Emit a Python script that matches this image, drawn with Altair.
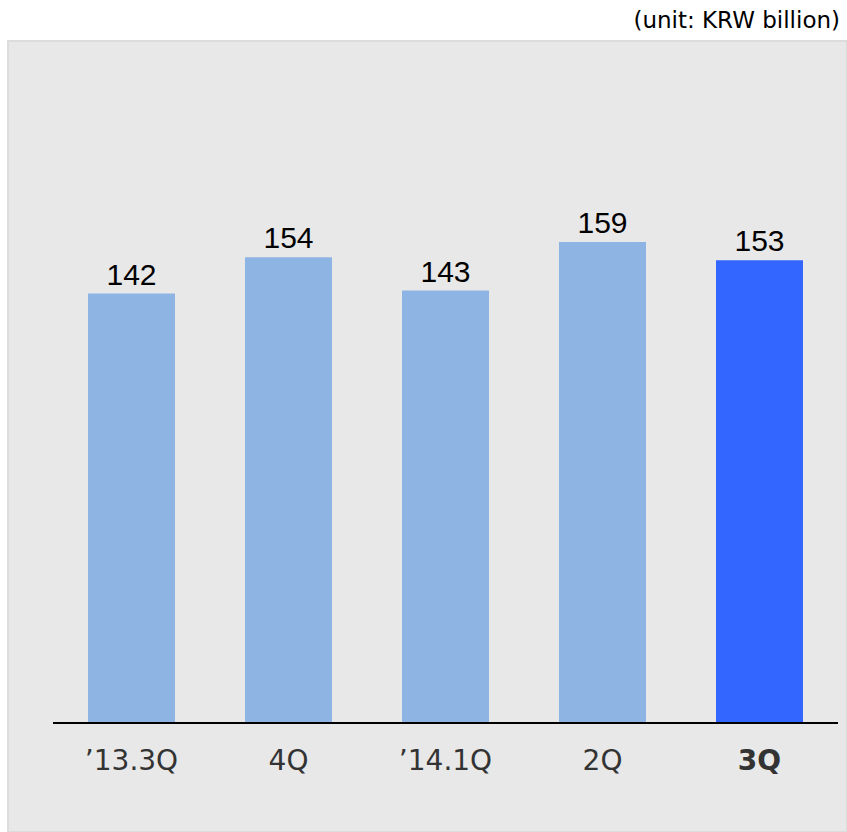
import altair as alt
import pandas as pd

categories = ["\u201913.3Q", "4Q", "\u201914.1Q", "2Q", "3Q"]
values = [142, 154, 143, 159, 153]
highlight = [False, False, False, False, True]

df = pd.DataFrame({"cat": categories, "val": values, "hl": highlight})

xs = alt.X("cat:N", sort=categories, axis=None,
           scale=alt.Scale(range=[45, 830], paddingInner=0.446, paddingOuter=0.223))
ys = alt.Y("val:Q", axis=None, scale=alt.Scale(domain=[0, 225.5], range=[682, 0], nice=False))

bars = alt.Chart(df).mark_bar().encode(
    x=xs, y=ys,
    color=alt.Color("hl:N", scale=alt.Scale(domain=[False, True], range=["#8eb4e3", "#3366ff"]), legend=None),
)

vals = alt.Chart(df).mark_text(baseline="alphabetic", dy=-9, fontSize=30, font="Liberation Sans", color="#000000").encode(
    x=xs, y=ys, text="val:Q"
)

labels_n = alt.Chart(df).transform_filter("!datum.hl").mark_text(
    baseline="alphabetic", fontSize=28, font="DejaVu Sans", color="#333333").encode(
    x=xs, y=alt.value(729), text="cat:N"
)
labels_b = alt.Chart(df).transform_filter("datum.hl").mark_text(
    baseline="alphabetic", fontSize=28, font="DejaVu Sans", fontWeight="bold", color="#333333").encode(
    x=xs, y=alt.value(729), text="cat:N"
)

rule = alt.Chart(df).mark_rule(color="#000000", strokeWidth=2).encode(
    x=alt.value(45), x2=alt.value(830), y=alt.value(682)
)

chart = alt.layer(bars, vals, labels_n, labels_b, rule).properties(
    width=839, height=791,
    background="#ffffff",
    autosize=alt.AutoSizeParams(type="none"),
    padding={"left": 8, "top": 41, "right": 0, "bottom": 0},
    title=alt.TitleParams("(unit: KRW billion)", anchor="end", font="DejaVu Sans", fontSize=23,
                          fontWeight="normal", color="#000000", offset=8, dx=-7),
).configure_view(fill="#e8e8e8", stroke="#dcdcdc", strokeWidth=2)

chart.save("out.html", embed_options={"renderer": "svg", "actions": False})
